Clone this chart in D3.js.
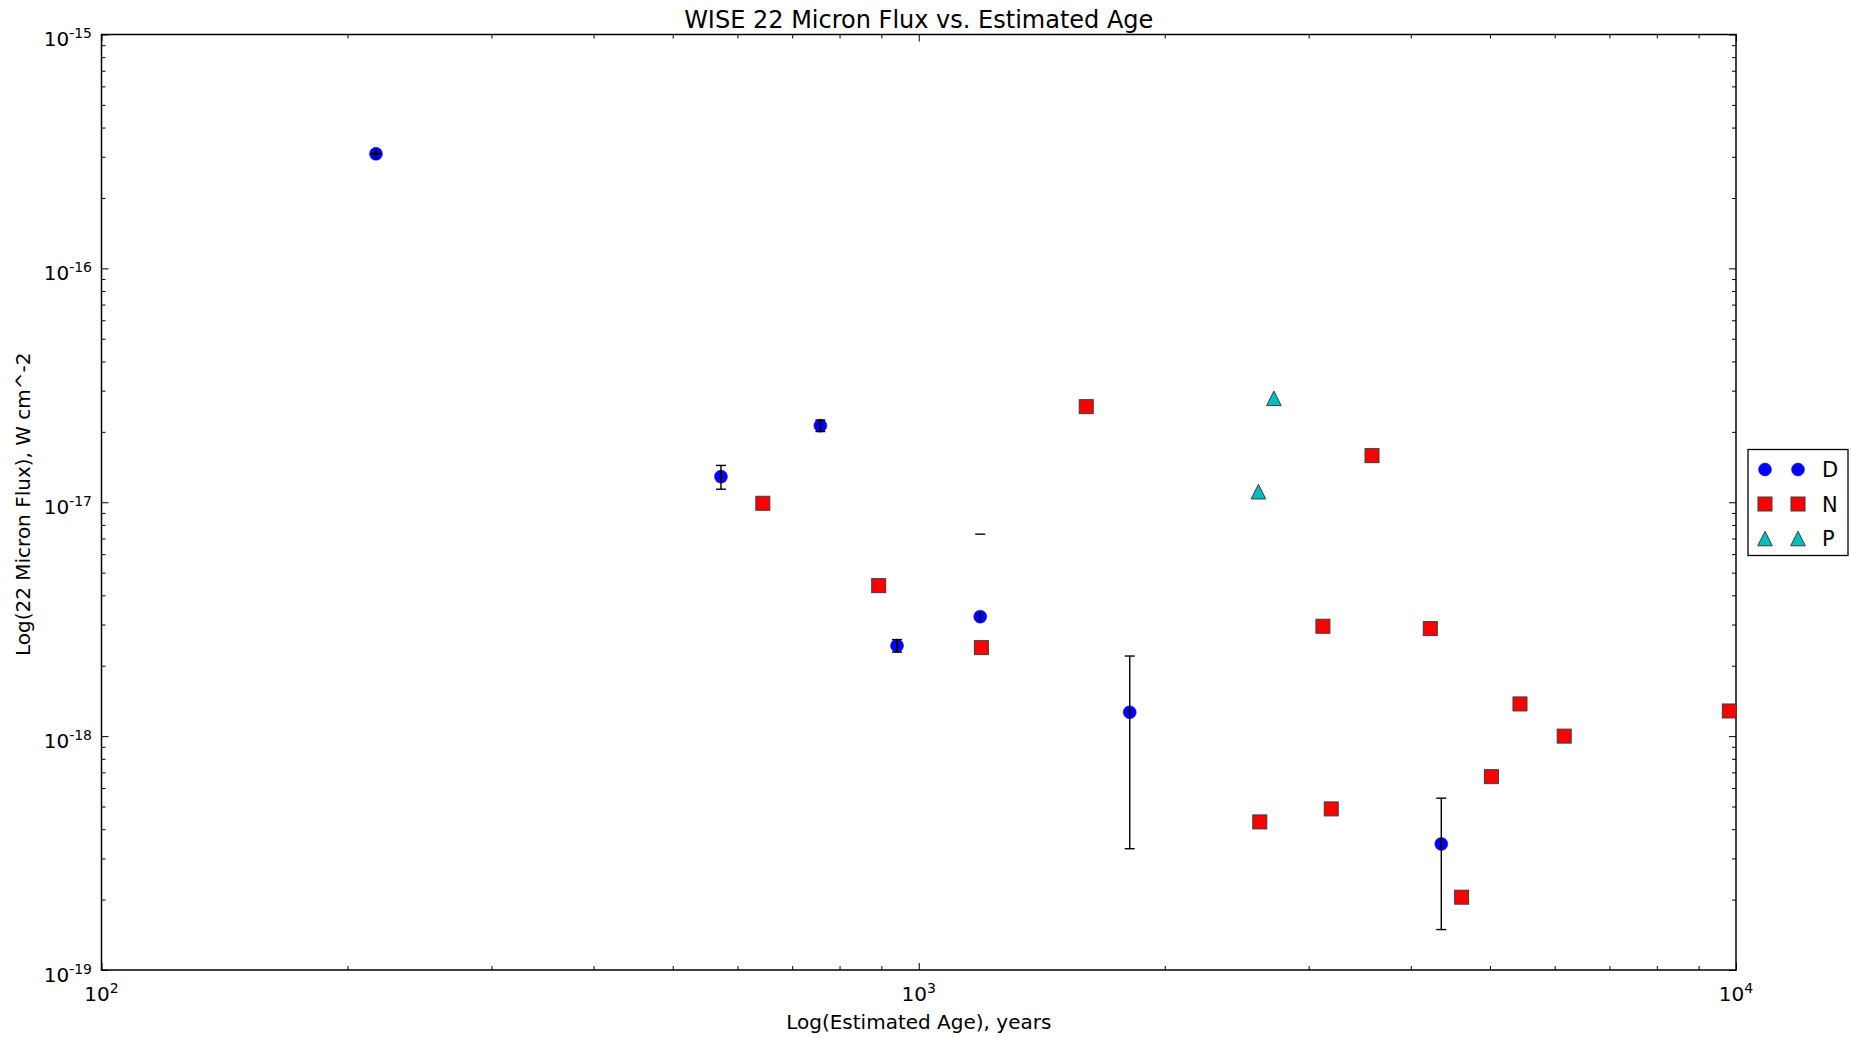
<!DOCTYPE html>
<html><head><meta charset="utf-8">
<script src="https://cdn.jsdelivr.net/npm/d3@7"></script>
<style>
body{margin:0;background:#fff}
text{font-family:"DejaVu Sans",sans-serif;fill:#000}
</style>
</head><body><svg id="c" width="1851" height="1037"></svg>
<script>
// ---- data ----
const seriesNames = ["D", "N", "P"];
const ageD = [216.7, 572.8, 757.9, 940.6, 1189, 1812, 4359];
const fluxD = [3.09e-16, 1.287e-17, 2.126e-17, 2.437e-18, 3.243e-18, 1.265e-18, 3.459e-19];
const fluxErrD = [1.5e-18, 1.5e-18, 1.2e-18, 1.5e-19, 4.06e-18, 9.35e-19, 1.97e-19];
const ageErrD = [0, 0, 0, 0, 0, 0, 0];
const ageN = [644.5, 893.3, 1193, 1603, 2614, 3123, 3197, 3586, 4226, 4616, 5020, 5441, 6163, 9813];
const fluxN = [9.9e-18, 4.4e-18, 2.39e-18, 2.563e-17, 4.297e-19, 2.95e-18, 4.884e-19, 1.582e-17, 2.882e-18, 2.048e-19, 6.71e-19, 1.373e-18, 1.0e-18, 1.281e-18];
const ageP = [2604, 2720];
const fluxP = [1.11e-17, 2.783e-17];
const xTickValues = [1e2, 1e3, 1e4];
const xTickExps = ["2", "3", "4"];
const yTickValues = [1e-15, 1e-16, 1e-17, 1e-18, 1e-19];
const yTickExps = ["-15", "-16", "-17", "-18", "-19"];
const titleText = "WISE 22 Micron Flux vs. Estimated Age";
const xLabelText = "Log(Estimated Age), years";
const yLabelText = "Log(22 Micron Flux), W cm^-2";

// ---- layout ----
const M = {left: 101.5, right: 1736, top: 34.5, bottom: 970};
const svg = d3.select("#c");
const x = d3.scaleLog().domain([1e2, 1e4]).range([M.left, M.right]);
const y = d3.scaleLog().domain([1e-19, 1e-15]).range([M.bottom, M.top]);

const colors = {D: "#0000ff", N: "#ff0000", P: "#00bfbf"};
const edge = "#3c3c3c";

// clip
svg.append("defs").append("clipPath").attr("id", "clip")
  .append("rect").attr("x", M.left).attr("y", M.top)
  .attr("width", M.right - M.left).attr("height", M.bottom - M.top);

// ---- ticks (inward, all four sides) ----
const xMinor = x.ticks().filter(v => !xTickValues.includes(v));
const yMinor = y.ticks().filter(v => !yTickValues.some(t => Math.abs(t - v) / v < 1e-6));
function styleAxis(g) {
  g.select(".domain").remove();
  g.selectAll("line").attr("stroke", "#000").attr("stroke-width", 1);
  g.selectAll("text").remove();
}
const ax = svg.append("g");
[[xTickValues, 7], [xMinor, 4]].forEach(([vals, len]) => {
  ax.append("g").attr("transform", `translate(0,${M.bottom})`)
    .call(d3.axisBottom(x).tickValues(vals).tickSize(-len).tickFormat("")).call(styleAxis);
  ax.append("g").attr("transform", `translate(0,${M.top})`)
    .call(d3.axisTop(x).tickValues(vals).tickSize(-len).tickFormat("")).call(styleAxis);
});
[[yTickValues, 7], [yMinor, 4]].forEach(([vals, len]) => {
  ax.append("g").attr("transform", `translate(${M.left},0)`)
    .call(d3.axisLeft(y).tickValues(vals).tickSize(-len).tickFormat("")).call(styleAxis);
  ax.append("g").attr("transform", `translate(${M.right},0)`)
    .call(d3.axisRight(y).tickValues(vals).tickSize(-len).tickFormat("")).call(styleAxis);
});

// tick labels
xTickValues.forEach((v, i) => {
  const t = svg.append("text").attr("x", x(v)).attr("y", 1001)
    .attr("text-anchor", "middle").style("font-size", "20px");
  t.append("tspan").text("10");
  t.append("tspan").attr("dy", -8).style("font-size", "14px").text(xTickExps[i]);
});
yTickValues.forEach((v, i) => {
  const t = svg.append("text").attr("x", 92).attr("y", y(v) + 11.5)
    .attr("text-anchor", "end").style("font-size", "20px");
  t.append("tspan").text("10");
  t.append("tspan").attr("dy", -8).style("font-size", "14px").text(yTickExps[i]);
});

// frame
svg.append("rect").attr("x", M.left).attr("y", M.top)
  .attr("width", M.right - M.left).attr("height", M.bottom - M.top)
  .attr("fill", "none").attr("stroke", "#000").attr("stroke-width", 1.5);

// titles
svg.append("text").attr("x", (M.left + M.right) / 2).attr("y", 28)
  .attr("text-anchor", "middle").style("font-size", "24px").text(titleText);
svg.append("text").attr("x", (M.left + M.right) / 2).attr("y", 1029)
  .attr("text-anchor", "middle").style("font-size", "20px").text(xLabelText);
svg.append("text").attr("transform", `translate(30,${(M.top + M.bottom) / 2 + 2}) rotate(-90)`)
  .attr("text-anchor", "middle").style("font-size", "20px").text(yLabelText);

// ---- markers ----
function drawMarker(g, kind, cx, cy) {
  if (kind === "D") {
    g.append("circle").attr("cx", cx).attr("cy", cy).attr("r", 6.5)
      .attr("fill", colors.D).attr("stroke", colors.D).attr("stroke-width", 0.5);
  } else if (kind === "N") {
    const s = 14;
    g.append("rect").attr("x", cx - s / 2).attr("y", cy - s / 2).attr("width", s).attr("height", s)
      .attr("fill", colors.N).attr("stroke", edge).attr("stroke-width", 1);
  } else {
    const h = 7.3;
    g.append("path").attr("d", `M${cx},${cy - h}L${cx - h},${cy + h}L${cx + h},${cy + h}Z`)
      .attr("fill", colors.P).attr("stroke", edge).attr("stroke-width", 1);
  }
}

const plot = svg.append("g").attr("clip-path", "url(#clip)");
// D series with error bars
const gD = plot.append("g");
ageD.forEach((a, i) => drawMarker(gD, "D", x(a), y(fluxD[i])));
const gErr = plot.append("g").attr("stroke", "#000").attr("stroke-width", 1.4);
const cap = 5;
ageD.forEach((a, i) => {
  const cx = x(a), v = fluxD[i], e = fluxErrD[i];
  const lo = v - e, hi = v + e;
  // age error (horizontal) with caps
  const xl = x(a - ageErrD[i]), xr = x(a + ageErrD[i]), cy = y(v);
  gErr.append("line").attr("x1", xl).attr("x2", xr).attr("y1", cy).attr("y2", cy);
  [xl, xr].forEach(px => gErr.append("line").attr("x1", px).attr("x2", px).attr("y1", cy - cap).attr("y2", cy + cap));
  // flux error (vertical); masked when lower bound is not positive
  if (lo > 0) {
    gErr.append("line").attr("x1", cx).attr("x2", cx).attr("y1", y(lo)).attr("y2", y(hi));
    gErr.append("line").attr("x1", cx - cap).attr("x2", cx + cap).attr("y1", y(lo)).attr("y2", y(lo));
  }
  gErr.append("line").attr("x1", cx - cap).attr("x2", cx + cap).attr("y1", y(hi)).attr("y2", y(hi));
});
const gN = plot.append("g");
ageN.forEach((a, i) => drawMarker(gN, "N", x(a), y(fluxN[i])));
const gP = plot.append("g");
ageP.forEach((a, i) => drawMarker(gP, "P", x(a), y(fluxP[i])));

// ---- legend ----
const lg = svg.append("g");
lg.append("rect").attr("x", 1748).attr("y", 449.5).attr("width", 100).attr("height", 106)
  .attr("fill", "#fff").attr("stroke", "#000").attr("stroke-width", 1.3);
seriesNames.forEach((s, i) => {
  const ry = 469.5 + i * 34.5;
  drawMarker(lg, s, 1765, ry);
  drawMarker(lg, s, 1798, ry);
  lg.append("text").attr("x", 1822).attr("y", ry + 7.8).style("font-size", "21px").text(s);
});
</script>
</body></html>
